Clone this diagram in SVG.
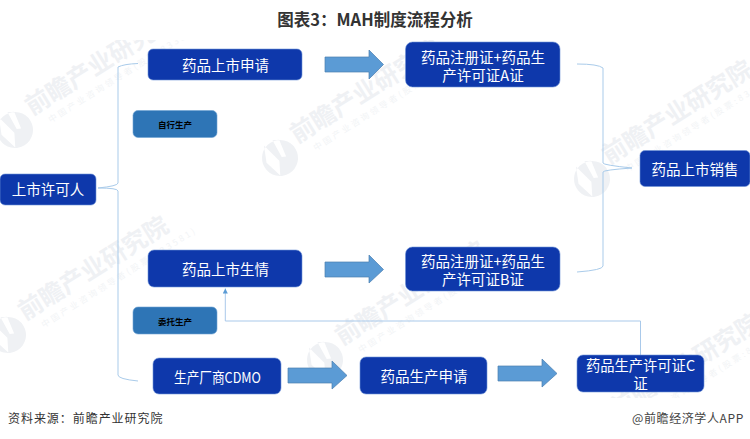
<svg xmlns="http://www.w3.org/2000/svg" width="750" height="439" viewBox="0 0 750 439">
<style>
text{font-family:"Noto Sans CJK SC","Liberation Sans",sans-serif}
.n{fill:#0e38ab;stroke:#6f93d6;stroke-width:.6}
.s{fill:#2e75b6;stroke:#6fa3d4;stroke-width:.6}
.t{fill:#fff;font-size:14.5px;text-anchor:middle}
.l{fill:#000;font-size:8.5px;font-weight:700;text-anchor:middle}
.b{fill:none;stroke:#a9cbea;stroke-width:1}
.a{fill:#5b9bd5;stroke:#4a7eb0;stroke-width:.7}
.wm{fill:#eff1f4;font-size:24.5px;font-weight:700}
.ws{fill:#f2f4f6;font-size:8.5px;letter-spacing:2.6px}
.wl{fill:#eff1f4}
</style>
<defs>
<clipPath id="c"><rect x="0" y="40" width="750" height="358"/></clipPath>
<marker id="h" markerWidth="6" markerHeight="6" refX="5" refY="2.5" orient="auto"><path d="M0 0L5 2.5L0 5z" fill="#5b9bd5"/></marker>
<g id="wmark">
<path class="wl" fill-rule="evenodd" d="M-18 0a18 18 0 1 0 36 0a18 18 0 1 0-36 0zM-7-19L-2 2L-9 15L-14-3zM3-19L9-16L6 2L2 0z"/>
<text class="wm" x="22" y="-3">前瞻产业研究院</text>
<text class="ws" x="34" y="13">中国产业咨询领导者(股票:833581)</text>
</g>
</defs>
<rect width="750" height="439" fill="#fff"/>
<g id="watermarks" clip-path="url(#c)">
<use href="#wmark" transform="translate(15 130) rotate(-32)"/>
<use href="#wmark" transform="translate(280 158) rotate(-32)"/>
<use href="#wmark" transform="translate(592 179) rotate(-32)"/>
<use href="#wmark" transform="translate(8 335) rotate(-32)"/>
<use href="#wmark" transform="translate(325 360) rotate(-32)"/>
<use href="#wmark" transform="translate(600 432) rotate(-32)"/>
</g>
<text x="375" y="26" font-size="16.500" font-weight="700" fill="#333" text-anchor="middle">图表3：MAH制度流程分析</text>
<g id="connectors">
<path class="b" d="M138 63.5Q124 64 118 67V183Q118 186 98 188M98 188Q118 188 118 191V375Q118 379 138 381"/>
<path class="b" d="M577 64Q598 64 603 68V163Q603 165 632 168M632 168Q603 170 603 172V266Q603 270 577 272"/>
<path d="M640.500 355V321H225.300V288.500" fill="none" stroke="#a9c9ea" stroke-width="1" marker-end="url(#h)"/>
<path class="a" d="M325 57H369V50L383.500 64.500L369 79V72H325z"/>
<path class="a" d="M325 262H369V255L383.500 269.500L369 283V277H325z"/>
<path class="a" d="M288 368H332V361L347 375.500L332 389V383H288z"/>
<path class="a" d="M498 366H542V359L557 373.500L542 387V381H498z"/>
</g>
<g id="n-applicant"><rect class="n" x="0" y="174" width="96" height="31" rx="5"/><text class="t" x="48" y="195">上市许可人</text></g>
<g id="n-apply"><rect class="n" x="148" y="49" width="154" height="31" rx="5"/><text class="t" x="225.500" y="71">药品上市申请</text></g>
<g id="n-self"><rect class="s" x="133" y="110.500" width="84" height="27" rx="5"/><text class="l" x="175" y="128">自行生产</text></g>
<g id="n-certa"><rect class="n" x="405.500" y="42" width="154.500" height="45" rx="7"/><text class="t"><tspan x="483" y="63">药品注册证+药品生</tspan><tspan x="483" y="81">产许可证A证</tspan></text></g>
<g id="n-sale"><rect class="n" x="640" y="150.500" width="110" height="36" rx="5"/><text class="t" x="695" y="175">药品上市销售</text></g>
<g id="n-apply2"><rect class="n" x="148" y="250" width="154" height="37" rx="6"/><text class="t" x="225.500" y="275">药品上市生情</text></g>
<g id="n-certb"><rect class="n" x="405.500" y="247" width="154.500" height="44" rx="7"/><text class="t"><tspan x="483" y="267">药品注册证+药品生</tspan><tspan x="483" y="285">产许可证B证</tspan></text></g>
<g id="n-entrust"><rect class="s" x="133" y="307" width="84" height="27" rx="5"/><text class="l" x="175" y="325">委托生产</text></g>
<g id="n-cdmo"><rect class="n" x="153" y="358" width="128" height="36" rx="6"/><text class="t" x="217.500" y="383" textLength="87" lengthAdjust="spacingAndGlyphs">生产厂商CDMO</text></g>
<g id="n-prod"><rect class="n" x="360" y="357" width="127" height="37" rx="6"/><text class="t" x="424" y="382">药品生产申请</text></g>
<g id="n-certc"><rect class="n" x="577" y="355" width="127" height="37" rx="6"/><text class="t"><tspan x="640.500" y="371" textLength="109" lengthAdjust="spacingAndGlyphs">药品生产许可证C</tspan><tspan x="640.500" y="389">证</tspan></text></g>
<text x="8" y="423" font-size="12" letter-spacing=".95" fill="#333">资料来源：前瞻产业研究院</text>
<text x="632" y="423" font-size="12" letter-spacing=".6" fill="#444">@前瞻经济学人APP</text>
</svg>
